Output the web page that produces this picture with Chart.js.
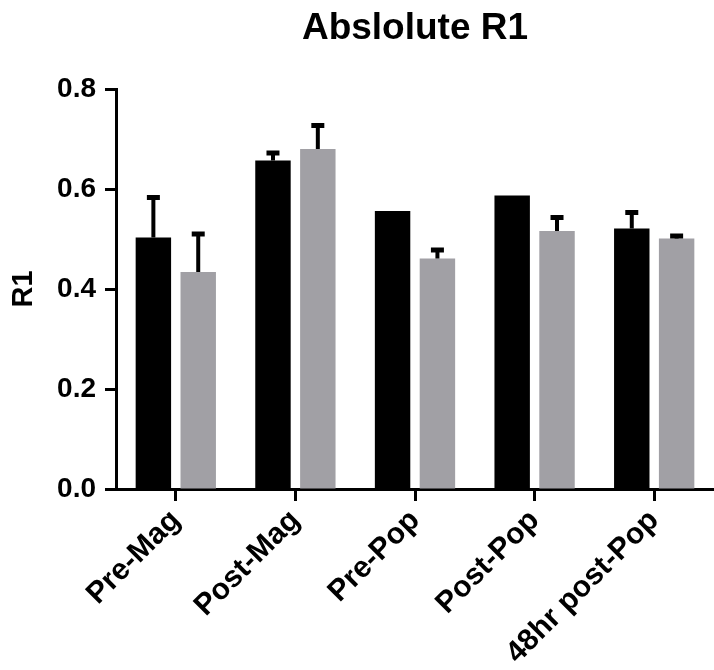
<!DOCTYPE html>
<html>
<head>
<meta charset="utf-8">
<script src="https://cdn.jsdelivr.net/npm/chart.js@4"></script>
<style>
  html, body { margin: 0; padding: 0; background: #fff; }
  #wrap { width: 714px; height: 670px; }
</style>
</head>
<body>
<div id="wrap"><canvas id="chart"></canvas></div>
<script>
const categories = ['Pre-Mag', 'Post-Mag', 'Pre-Pop', 'Post-Pop', '48hr post-Pop']
const blackValues = [0.503, 0.657, 0.556, 0.587, 0.521]
const blackErrors = [0.080, 0.015, 0, 0, 0.032]
const grayValues = [0.434, 0.680, 0.461, 0.516, 0.501]
const grayErrors = [0.076, 0.047, 0.017, 0.027, 0.005]
const yTicks = [0, 0.2, 0.4, 0.6, 0.8]
const titleText = 'Abslolute R1'
const yTitle = 'R1'

const fontFamily = "'Liberation Sans', Arial, sans-serif"

// error bars, upper side only
const errorBars = {
  id: 'errorBars',
  afterDatasetsDraw (chart) {
    const ctx = chart.ctx
    const y = chart.scales.y
    chart.data.datasets.forEach((ds, i) => {
      const meta = chart.getDatasetMeta(i)
      meta.data.forEach((bar, j) => {
        if (!ds.errors[j]) return
        const top = y.getPixelForValue(ds.data[j] + ds.errors[j])
        ctx.save()
        ctx.strokeStyle = '#000'
        ctx.lineWidth = 4
        ctx.beginPath()
        ctx.moveTo(bar.x, bar.y)
        ctx.lineTo(bar.x, top)
        ctx.stroke()
        ctx.lineWidth = 5
        ctx.beginPath()
        ctx.moveTo(bar.x - 6.5, top)
        ctx.lineTo(bar.x + 6.5, top)
        ctx.stroke()
        ctx.restore()
      })
    })
  }
}

// title centred over the plot area
const areaTitle = {
  id: 'areaTitle',
  afterDraw (chart) {
    const ctx = chart.ctx
    const a = chart.chartArea
    ctx.save()
    ctx.fillStyle = '#000'
    ctx.font = 'bold 37px ' + fontFamily
    ctx.textAlign = 'center'
    ctx.textBaseline = 'alphabetic'
    ctx.fillText(titleText, (a.left + a.right) / 2, 39)
    ctx.restore()
  }
}

new Chart(document.getElementById('chart'), {
  type: 'bar',
  data: {
    labels: categories,
    datasets: [
      {
        data: blackValues,
        errors: blackErrors,
        backgroundColor: '#000000',
        categoryPercentage: 0.75,
        barPercentage: 0.79
      },
      {
        data: grayValues,
        errors: grayErrors,
        backgroundColor: '#a1a0a5',
        categoryPercentage: 0.75,
        barPercentage: 0.79
      }
    ]
  },
  options: {
    responsive: true,
    maintainAspectRatio: false,
    animation: false,
    layout: { padding: { top: 89, right: 0, left: 0, bottom: 0 } },
    plugins: {
      legend: { display: false },
      tooltip: { enabled: false },
      title: { display: false }
    },
    scales: {
      x: {
        offset: true,
        afterFit: (s) => { s.height = 181 },
        grid: {
          offset: false,
          drawOnChartArea: false,
          drawTicks: true,
          tickLength: 12,
          tickWidth: 3,
          tickColor: '#000'
        },
        border: { display: true, color: '#000', width: 3 },
        ticks: {
          color: '#000',
          minRotation: 45,
          maxRotation: 45,
          padding: 2,
          autoSkip: false,
          font: { family: fontFamily, size: 30, weight: 'bold' }
        }
      },
      y: {
        min: 0,
        max: 0.8,
        afterFit: (s) => { s.width = 116 },
        afterBuildTicks: (s) => { s.ticks = yTicks.map(v => ({ value: v })) },
        grid: {
          drawOnChartArea: false,
          drawTicks: true,
          tickLength: 11,
          tickWidth: 3,
          tickColor: '#000'
        },
        border: { display: true, color: '#000', width: 3 },
        ticks: {
          color: '#000',
          padding: 9,
          font: { family: fontFamily, size: 28, weight: 'bold' },
          callback: (v) => Number(v).toFixed(1)
        },
        title: {
          display: true,
          text: yTitle,
          color: '#000',
          padding: { top: 7, bottom: 0 },
          font: { family: fontFamily, size: 29, weight: 'bold' }
        }
      }
    }
  },
  plugins: [errorBars, areaTitle]
})
</script>
</body>
</html>
